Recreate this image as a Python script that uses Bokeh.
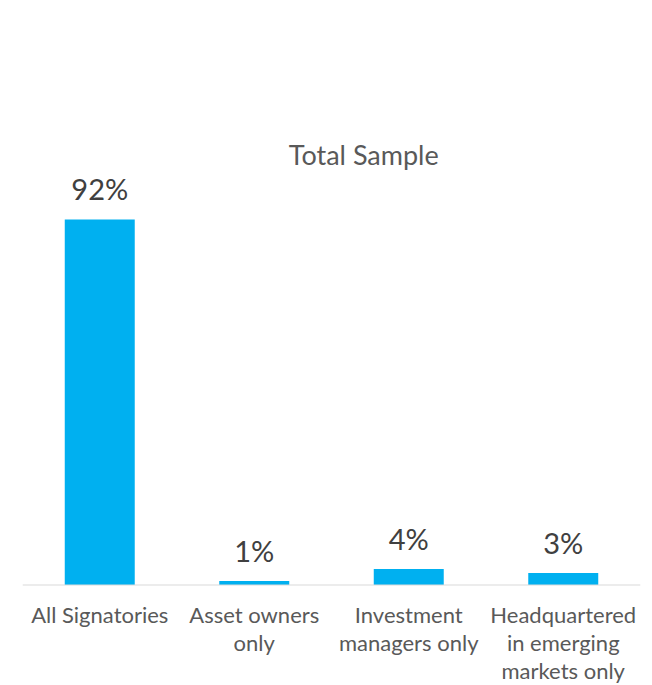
from bokeh.plotting import figure
from bokeh.models import Range1d, FactorRange, Span, ColumnDataSource
from bokeh.core.properties import value
from bokeh.embed import file_html
from bokeh.resources import INLINE

# ---- data ----
categories = ["All Signatories", "Asset owners only", "Investment managers only",
              "Headquartered in emerging markets only"]
category_labels = ["All Signatories", "Asset owners\nonly", "Investment\nmanagers only",
                   "Headquartered\nin emerging\nmarkets only"]
values = [92, 1, 4, 3]
value_labels = ["92%", "1%", "4%", "3%"]
title_text = "Total Sample"

# ---- layout ----
W, H = 652, 685
LEFT, RIGHT = 22, 12
BASE_PX = 584.5           # baseline position from top of frame
PX_PER_UNIT = 3.973
y_end = BASE_PX / PX_PER_UNIT
y_start = -(H - BASE_PX) / PX_PER_UNIT

FONT = value("Lato")
BLUE = "#00B0F0"

p = figure(width=W, height=H, output_backend="svg", toolbar_location=None,
           x_range=FactorRange(*categories, range_padding=0),
           y_range=Range1d(y_start, y_end),
           x_axis_location=None, y_axis_location=None,
           min_border_left=LEFT, min_border_right=RIGHT,
           min_border_top=0, min_border_bottom=0)
p.outline_line_color = None
p.grid.visible = False
p.background_fill_color = "white"
p.border_fill_color = "white"

src = ColumnDataSource(dict(cat=categories, val=values, vlab=value_labels,
                            clab=category_labels, zero=[0] * len(values)))

p.vbar(x="cat", top="val", width=0.453, source=src, color=BLUE, line_color=None)

p.add_layout(Span(location=0, dimension="width", line_color="#D9D9D9", line_width=1.2))

# value labels
p.text(x="cat", y="val", text="vlab", source=src, text_font=FONT,
       text_font_size="29px", text_color="#404040", text_align="center",
       text_baseline="middle", y_offset=-31)

# category labels
p.text(x="cat", y="zero", text="clab", source=src, text_font=FONT,
       text_font_size="22px", text_color="#595959", text_align="center",
       text_baseline="top", text_line_height=1.03, y_offset=16)

# title
title_y = y_end - 154 / PX_PER_UNIT
p.text(x=[categories[2]], y=[title_y], text=[title_text], text_font=FONT,
       text_font_size="27px", text_color="#595959", text_align="center",
       text_baseline="middle", x_offset=-45)

open("out.html", "w").write(file_html(p, INLINE))
